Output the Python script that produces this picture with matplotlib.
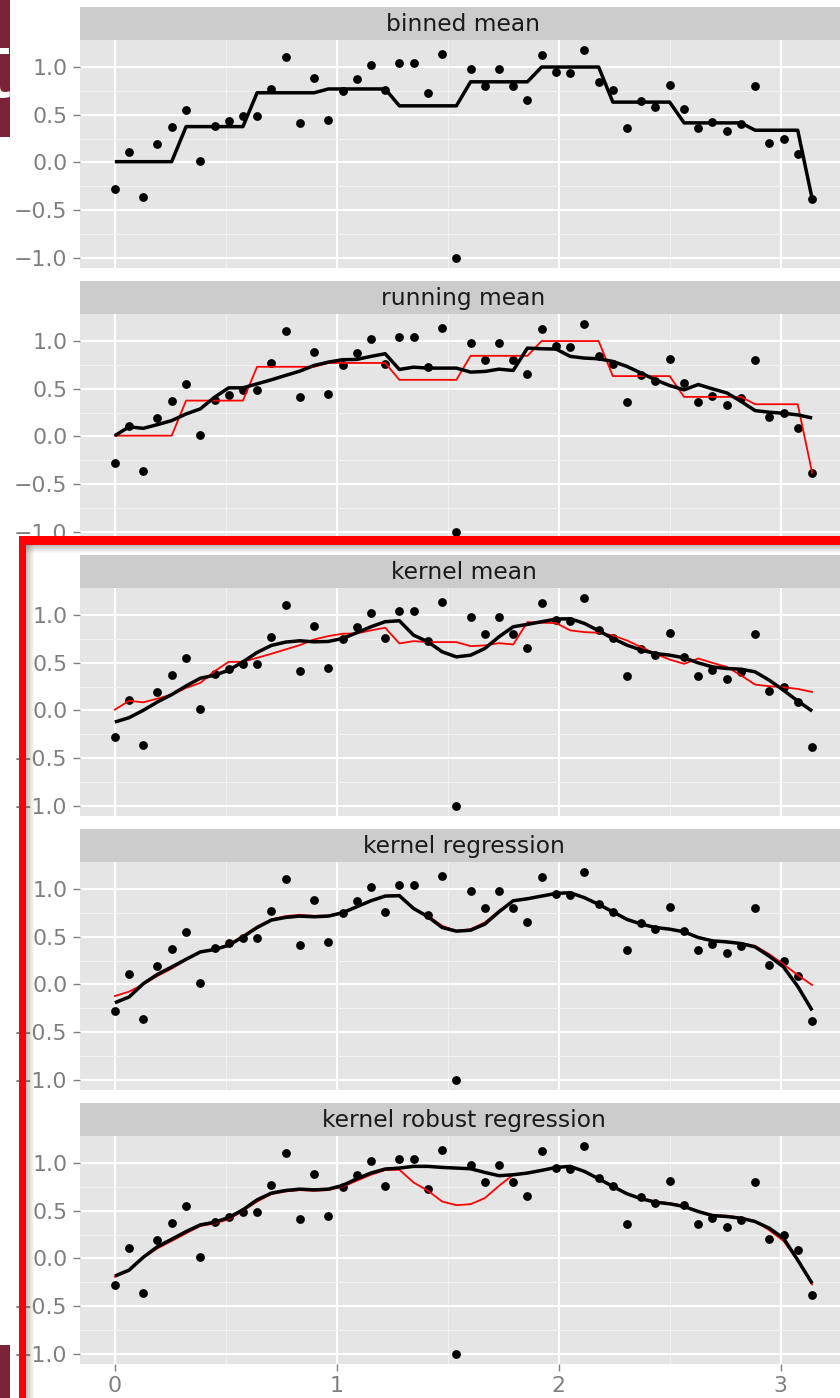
import numpy as np
import matplotlib
matplotlib.use("Agg")
import matplotlib.pyplot as plt
from matplotlib.patches import Rectangle

plt.rcParams['font.family'] = ['DejaVu Sans']

# data
x = [0.000, 0.064, 0.128, 0.192, 0.256, 0.321, 0.385, 0.449, 0.513, 0.577,
     0.641, 0.705, 0.769, 0.833, 0.898, 0.962, 1.026, 1.090, 1.154, 1.218,
     1.282, 1.346, 1.411, 1.475, 1.539, 1.603, 1.667, 1.731, 1.795, 1.859,
     1.923, 1.988, 2.052, 2.116, 2.180, 2.244, 2.308, 2.372, 2.436, 2.500,
     2.565, 2.629, 2.693, 2.757, 2.821, 2.885, 2.949, 3.013, 3.077, 3.142]

y = [-0.280, 0.112, -0.361, 0.189, 0.375, 0.544, 0.011, 0.382, 0.439, 0.491,
     0.484, 0.772, 1.105, 0.411, 0.884, 0.446, 0.747, 0.870, 1.021, 0.754,
     1.046, 1.046, 0.726, 1.140, -1.000, 0.975, 0.800, 0.982, 0.800, 0.653,
     1.126, 0.944, 0.933, 1.175, 0.842, 0.754, 0.358, 0.642, 0.582, 0.807,
     0.558, 0.358, 0.428, 0.326, 0.404, 0.800, 0.200, 0.246, 0.088, -0.382]

binned = [0.007, 0.007, 0.007, 0.007, 0.007, 0.375, 0.375, 0.375, 0.375, 0.375,
          0.730, 0.730, 0.730, 0.730, 0.730, 0.770, 0.770, 0.770, 0.770, 0.770,
          0.593, 0.593, 0.593, 0.593, 0.593, 0.845, 0.845, 0.845, 0.845, 0.845,
          1.000, 1.000, 1.000, 1.000, 1.000, 0.632, 0.632, 0.632, 0.632, 0.632,
          0.414, 0.414, 0.414, 0.414, 0.414, 0.337, 0.337, 0.337, 0.337, -0.382]

running = [0.007, 0.100, 0.084, 0.123, 0.165, 0.235, 0.288, 0.410, 0.509, 0.509,
           0.551, 0.593, 0.639, 0.684, 0.744, 0.779, 0.804, 0.807, 0.839, 0.867,
           0.702, 0.726, 0.716, 0.716, 0.716, 0.674, 0.681, 0.705, 0.691, 0.926,
           0.919, 0.916, 0.839, 0.821, 0.814, 0.786, 0.733, 0.663, 0.593, 0.533,
           0.488, 0.544, 0.498, 0.456, 0.368, 0.270, 0.253, 0.242, 0.225, 0.193]

kmean = [-0.123, -0.077, 0.000, 0.088, 0.165, 0.256, 0.337, 0.368, 0.421, 0.509,
         0.607, 0.681, 0.716, 0.730, 0.719, 0.723, 0.754, 0.814, 0.877, 0.930,
         0.940, 0.789, 0.719, 0.614, 0.561, 0.579, 0.649, 0.772, 0.877, 0.902,
         0.930, 0.958, 0.961, 0.912, 0.835, 0.754, 0.684, 0.632, 0.596, 0.579,
         0.551, 0.498, 0.456, 0.439, 0.432, 0.404, 0.316, 0.211, 0.098, -0.007]

kreg = [-0.193, -0.133, 0.007, 0.105, 0.182, 0.263, 0.340, 0.365, 0.410, 0.498,
        0.596, 0.674, 0.702, 0.716, 0.709, 0.716, 0.751, 0.814, 0.877, 0.926,
        0.930, 0.796, 0.709, 0.596, 0.558, 0.568, 0.632, 0.761, 0.877, 0.898,
        0.926, 0.954, 0.961, 0.909, 0.839, 0.761, 0.681, 0.632, 0.596, 0.579,
        0.551, 0.491, 0.456, 0.446, 0.428, 0.393, 0.295, 0.182, -0.021, -0.274]

krobust = [-0.186, -0.123, 0.011, 0.123, 0.200, 0.281, 0.351, 0.379, 0.428, 0.509,
           0.614, 0.684, 0.712, 0.726, 0.719, 0.726, 0.765, 0.835, 0.895, 0.937,
           0.947, 0.965, 0.965, 0.954, 0.947, 0.940, 0.902, 0.867, 0.877, 0.895,
           0.923, 0.954, 0.965, 0.912, 0.835, 0.754, 0.677, 0.625, 0.589, 0.572,
           0.544, 0.491, 0.449, 0.439, 0.421, 0.386, 0.316, 0.211, -0.018, -0.263]

titles = ["binned mean", "running mean", "kernel mean",
          "kernel regression", "kernel robust regression"]
black_lines = [binned, running, kmean, kreg, krobust]
red_lines = [None, binned, running, kmean, kreg]

W, H = 840, 1398
fig = plt.figure(figsize=(W / 100, H / 100), dpi=100)
fig.patch.set_facecolor('white')

left_px, right_px = 80, 847
xr = max(x) - min(x)
yr = max(y) - min(y)
xlim = (min(x) - 0.05 * xr, max(x) + 0.05 * xr)
ylim = (min(y) - 0.05 * yr, max(y) + 0.05 * yr)

for k in range(5):
    top = 7 + 274 * k
    strip_bot = top + 33
    plot_bot = strip_bot + 228

    sax = fig.add_axes([left_px / W, 1 - strip_bot / H, (right_px - left_px) / W, 33 / H])
    sax.set_facecolor('#CCCCCC')
    sax.set_xticks([])
    sax.set_yticks([])
    for s in sax.spines.values():
        s.set_visible(False)
    sax.text(0.5, 0.47, titles[k], transform=sax.transAxes, ha='center', va='center',
             fontsize=16.8, color='#1A1A1A')

    ax = fig.add_axes([left_px / W, 1 - plot_bot / H, (right_px - left_px) / W, 228 / H])
    ax.set_facecolor('#E5E5E5')
    for s in ax.spines.values():
        s.set_visible(False)
    ax.set_xlim(*xlim)
    ax.set_ylim(*ylim)
    ax.set_xticks([0, 1, 2, 3])
    ax.set_xticks([0.5, 1.5, 2.5], minor=True)
    ax.set_yticks([-1.0, -0.5, 0.0, 0.5, 1.0])
    ax.set_yticks([-0.75, -0.25, 0.25, 0.75], minor=True)
    ax.set_yticklabels(['\u22121.0', '\u22120.5', '0.0', '0.5', '1.0'])
    ax.set_xticklabels(['0', '1', '2', '3'])
    ax.grid(which='minor', color='#F2F2F2', lw=0.8)
    ax.grid(which='major', color='white', lw=1.5)
    ax.set_axisbelow(True)
    ax.tick_params(which='minor', length=0)
    ax.tick_params(axis='y', which='major', length=5, width=1.0, color='#7F7F7F',
                   labelcolor='#7F7F7F', labelsize=15.8, pad=4)
    if k == 4:
        ax.tick_params(axis='x', which='major', length=5, width=1.0, color='#7F7F7F',
                       labelcolor='#7F7F7F', labelsize=15.8, pad=4)
    else:
        ax.tick_params(axis='x', which='major', length=0, labelbottom=False)

    ax.scatter(x, y, s=40, color='black', zorder=3, linewidths=0)
    if red_lines[k] is not None:
        ax.plot(x, red_lines[k], color='#FF0000', lw=1.3, zorder=4)
    ax.plot(x, black_lines[k], color='black', lw=2.5, zorder=5,
            solid_joinstyle='round', solid_capstyle='butt')


def px_rect(x0, y0, w, h, **kw):
    # rectangle given in image pixels (origin top-left)
    r = Rectangle((x0 / W, 1 - (y0 + h) / H), w / W, h / H,
                  transform=fig.transFigure, **kw)
    fig.add_artist(r)


# slide overlays
px_rect(0, 0, 10, 137, facecolor='#7A2236', edgecolor='none', zorder=20)
px_rect(0, 1345, 10, 53, facecolor='#7A2236', edgecolor='none', zorder=20)
fig.text(10 / W, 1 - 97 / H, 't', ha='right', va='baseline', fontsize=66,
         color='white', family='Liberation Sans', zorder=21)

for i in range(8):
    a = 0.35 * (1 - i / 8)
    px_rect(26 + i, 545, 1, H - 545, facecolor='#555555', alpha=a, edgecolor='none', zorder=22)
    px_rect(26, 545 + i, W - 26, 1, facecolor='#555555', alpha=a, edgecolor='none', zorder=22)
px_rect(19, 536, 7, H - 536, facecolor='#FF0000', edgecolor='none', zorder=23)
px_rect(19, 536, W - 19, 9, facecolor='#FF0000', edgecolor='none', zorder=23)

fig.savefig('out.png', dpi=100)
